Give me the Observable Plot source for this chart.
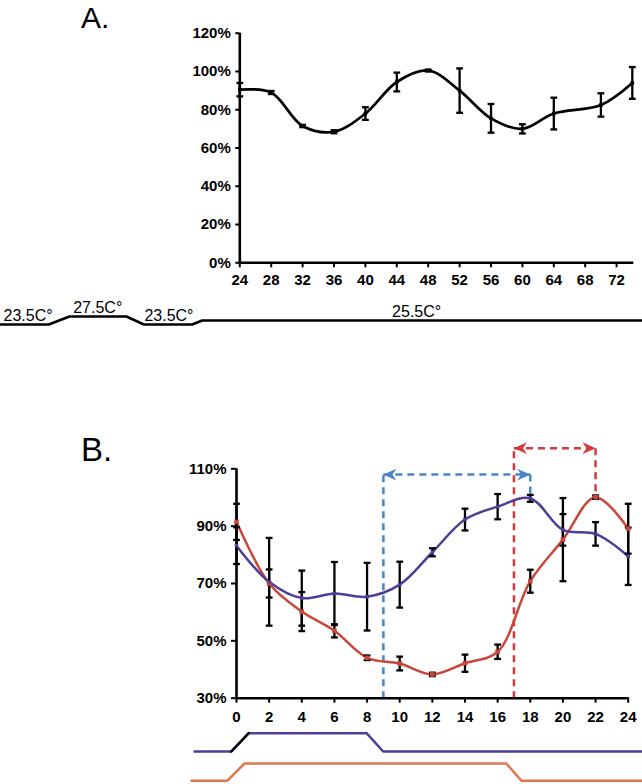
<!DOCTYPE html>
<html>
<head>
<meta charset="utf-8">
<script src="https://cdn.jsdelivr.net/npm/d3@7"></script>
<script src="https://cdn.jsdelivr.net/npm/@observablehq/plot@0.6"></script>
<style>
html, body { margin: 0; padding: 0; background: #fff; }
#page { position: relative; width: 642px; height: 784px; overflow: hidden; background: #fff; }
#page svg { position: absolute; left: 0; top: 0; overflow: visible; background: transparent; }
.panel { position: absolute; font-family: "Liberation Sans Narrow", "Liberation Sans", Arial, sans-serif; color: #000; white-space: pre; }
</style>
</head>
<body>
<div id="page">
  <div class="panel" style="left:81px; top:1px; font-size:30px; line-height:34px;">A.</div>
  <div class="panel" style="left:81px; top:435px; font-size:33px; line-height:30px;">B.</div>
</div>
<script>
// ---------------- Panel A data ----------------
const hoursA = [24, 28, 32, 36, 40, 44, 48, 52, 56, 60, 64, 70, 74];
const meanA  = [90.5, 89, 71.5, 68.5, 78, 94.5, 100.5, 90, 75.5, 70, 78, 82.5, 94];
const errA   = [3.5, 0.8, 0.6, 0.8, 3.3, 4.9, 0.5, 11.6, 7.5, 2.4, 8.3, 6.1, 8.3];
const ticksAX = [24, 28, 32, 36, 40, 44, 48, 52, 56, 60, 64, 68, 72];
const ticksAY = [0, 20, 40, 60, 80, 100, 120];

// Panel A temperature schedule (schematic, in the hour units of panel A)
const schedATime = [-6.5, -0.33, 2.3, 9.56, 11.77, 17.94, 19.21, 75.3];
const schedATemp = [23.5, 23.5, 27.5, 27.5, 23.5, 23.5, 25.5, 25.5];
const schedALabel = ["23.5C°", "27.5C°", "23.5C°", "25.5C°"];
const schedALabelTime = [-6.1, 2.78, 11.85, 43.4];
const schedALabelTemp = [23.5, 27.5, 23.5, 25.5];

// ---------------- Panel B data ----------------
const hoursB = [0, 2, 4, 6, 8, 10, 12, 14, 16, 18, 20, 22, 24];
const meanPurple = [83.2, 70.6, 64.9, 66.5, 65.4, 69.6, 80.9, 92.3, 96.8, 99.7, 88.7, 87.3, 79.5];
const errPurple  = [6.4, 15.3, 9.6, 11, 11.8, 8, 1.4, 3.8, 4.4, 1.2, 5.5, 4.1, 10];
const meanRed    = [91.5, 70, 60.2, 53.5, 44.1, 42.1, 38.3, 42.2, 46.2, 70.8, 85.3, 100.1, 89.1];
const errRed     = [6.3, 4.9, 6.8, 2.3, 0.8, 2.4, 0.6, 3, 2.5, 4, 14.5, 0.6, 8.7];
const ticksBX = [0, 2, 4, 6, 8, 10, 12, 14, 16, 18, 20, 22, 24];
const ticksBY = [30, 50, 70, 90, 110];

// phase-shift annotations (start hour, arrow level in %)
const shiftStart = [9, 17];
const shiftLevel = [108, 117.2];
const shiftColor = ["#4b84c7", "#d6383b"];

// temperature schedules under panel B (0 = cool, 1 = warm)
const schedPurpleTime  = [-2.57, -0.32, 0.75, 7.97, 8.99, 24.9];
const schedPurpleLevel = [0, 0, 1, 1, 0, 0];
const schedOrangeTime  = [-2.76, -0.57, 0.49, 16.53, 17.46, 24.9];
const schedOrangeLevel = [0, 0, 1, 1, 0, 0];

// ---------------- helpers ----------------
const W = 642, H = 784;
const FONT = "Liberation Sans, Arial, sans-serif";
const PURPLE = "#4f3d98", RED = "#c9473a", ORANGE = "#e2764d";

const cap = {draw(ctx, size) { const r = Math.sqrt(size / Math.PI); ctx.moveTo(-r, 0); ctx.lineTo(r, 0); }};
const head = {draw(ctx, size) {
  const r = Math.sqrt(size / Math.PI);
  ctx.moveTo(0, 0); ctx.lineTo(-r, -r * 0.45); ctx.lineTo(-r * 0.7, 0); ctx.lineTo(-r, r * 0.45); ctx.closePath();
}};

function errorMarks(rows, opts = {}) {
  return [
    Plot.ruleX(rows, {x: "h", y1: d => d.v - d.e, y2: d => d.v + d.e, stroke: "black", strokeWidth: 2.3}),
    Plot.dot(rows, {x: "h", y: d => d.v + d.e, symbol: cap, r: opts.cap ?? 3.4, stroke: "black", fill: "none", strokeWidth: 2.3}),
    Plot.dot(rows, {x: "h", y: d => d.v - d.e, symbol: cap, r: opts.cap ?? 3.4, stroke: "black", fill: "none", strokeWidth: 2.3})
  ];
}

const page = document.getElementById("page");
function add(svg) { page.appendChild(svg); }

// ---------------- Panel A main ----------------
const rowsA = hoursA.map((h, i) => ({h, v: meanA[i], e: errA[i]}));
const marginsA = {marginLeft: 239.3, marginRight: W - 631.8, marginTop: 32.7, marginBottom: H - 262.3};
add(Plot.plot({
  width: W, height: H, ...marginsA,
  style: {fontFamily: FONT, background: "transparent"},
  x: {domain: [24, 74]},
  y: {domain: [0, 120]},
  marks: [
    Plot.axisY({ticks: ticksAY, tickSize: 4, tickPadding: 5, tickFormat: d => d + "%", fontSize: 15, fontWeight: "bold", strokeWidth: 2, label: null, fill: "black"}),
    Plot.axisX({ticks: ticksAX, tickSize: 5, tickPadding: 6.5, fontSize: 15, fontWeight: "bold", strokeWidth: 2, label: null, fill: "black"}),
    Plot.ruleX([24], {strokeWidth: 2.6, stroke: "black"}),
    Plot.ruleY([0], {strokeWidth: 2.6, stroke: "black", insetRight: -1.5}),
    ...errorMarks(rowsA),
    Plot.line(rowsA, {x: "h", y: "v", curve: "catmull-rom", stroke: "black", strokeWidth: 2.7}),
    Plot.dot(rowsA, {x: "h", y: "v", symbol: "square", r: 2, fill: "black"})
  ]
}));

// Panel A temperature schedule
const schedA = schedATime.map((t, i) => ({t, temp: schedATemp[i]}));
const schedALabels = schedALabel.map((s, i) => ({s, t: schedALabelTime[i], temp: schedALabelTemp[i]}));
add(Plot.plot({
  width: W, height: H, ...marginsA,
  style: {fontFamily: FONT, background: "transparent"},
  x: {domain: [24, 74], axis: null},
  y: {domain: [23.5, 25.5, 27.5], range: [326, 314, 307.3], axis: null},
  marks: [
    Plot.line(schedA, {x: "t", y: "temp", stroke: "black", strokeWidth: 2.6}),
    Plot.text(schedALabels, {x: "t", y: "temp", text: "s", textAnchor: "start", lineAnchor: "bottom", dy: -3.5, fontSize: 16, fill: "black"})
  ]
}));

// ---------------- Panel B main ----------------
const rowsP = hoursB.map((h, i) => ({h, v: meanPurple[i], e: errPurple[i]}));
const rowsR = hoursB.map((h, i) => ({h, v: meanRed[i], e: errRed[i]}));
const marginsB = {marginLeft: 236, marginRight: W - 627.7, marginTop: 468.3, marginBottom: H - 697.7};

const peakP = rowsP.reduce((a, b) => (b.v > a.v ? b : a));
const peakR = rowsR.reduce((a, b) => (b.v > a.v ? b : a));
const peaks = [peakP, peakR];
const shifts = shiftStart.map((s, i) => ({start: s, end: peaks[i].h, level: shiftLevel[i], peak: peaks[i].v, color: shiftColor[i]}));
const dash = {strokeDasharray: "7,5", strokeWidth: 2.5};

add(Plot.plot({
  width: W, height: H, ...marginsB,
  style: {fontFamily: FONT, background: "transparent"},
  x: {domain: [0, 24]},
  y: {domain: [30, 110]},
  marks: [
    Plot.axisY({ticks: ticksBY, tickSize: 5, tickPadding: 5, tickFormat: d => d + "%", fontSize: 15, fontWeight: "bold", strokeWidth: 2, label: null, fill: "black"}),
    Plot.axisX({ticks: ticksBX, tickSize: 5, tickPadding: 8, fontSize: 15, fontWeight: "bold", strokeWidth: 2, label: null, fill: "black"}),
    // dashed phase-shift annotations
    Plot.link(shifts, {x1: "start", x2: "start", y1: 30, y2: "level", stroke: "color", ...dash}),
    Plot.link(shifts, {x1: "start", x2: "end", y1: "level", y2: "level", stroke: "color", ...dash}),
    Plot.link(shifts, {x1: "end", x2: "end", y1: "level", y2: "peak", stroke: "color", ...dash}),
    Plot.dot(shifts, {x: "start", y: "level", symbol: head, r: 13, rotate: 180, fill: "color", stroke: "none"}),
    Plot.dot(shifts, {x: "end", y: "level", symbol: head, r: 13, rotate: 0, fill: "color", stroke: "none"}),
    Plot.ruleX([0], {strokeWidth: 2.6, stroke: "black"}),
    Plot.ruleY([30], {strokeWidth: 2.6, stroke: "black", insetRight: -1}),
    Plot.line(rowsR, {x: "h", y: "v", curve: "catmull-rom", stroke: RED, strokeWidth: 2.5}),
    Plot.line(rowsP, {x: "h", y: "v", curve: "catmull-rom", stroke: PURPLE, strokeWidth: 2.5}),
    ...errorMarks(rowsP),
    ...errorMarks(rowsR),
    Plot.dot(rowsR, {x: "h", y: "v", symbol: "square", r: 2.6, fill: RED}),
    Plot.dot(rowsP, {x: "h", y: "v", symbol: "square", r: 2, fill: PURPLE})
  ]
}));

// Panel B temperature schedules
const schedP = schedPurpleTime.map((t, i) => ({t, lv: schedPurpleLevel[i]}));
const schedO = schedOrangeTime.map((t, i) => ({t, lv: schedOrangeLevel[i]}));
add(Plot.plot({
  width: W, height: H, ...marginsB,
  style: {background: "transparent"},
  x: {domain: [0, 24], axis: null},
  y: {domain: [0, 1], range: [751, 732.7], axis: null},
  marks: [
    Plot.line(schedP, {x: "t", y: "lv", stroke: PURPLE, strokeWidth: 2.5}),
    Plot.line(schedP.slice(1, 3), {x: "t", y: "lv", stroke: "black", strokeWidth: 2.5})
  ]
}));
add(Plot.plot({
  width: W, height: H, ...marginsB,
  style: {background: "transparent"},
  x: {domain: [0, 24], axis: null},
  y: {domain: [0, 1], range: [780.3, 763], axis: null},
  marks: [
    Plot.line(schedO, {x: "t", y: "lv", stroke: ORANGE, strokeWidth: 2.5})
  ]
}));
</script>
</body>
</html>
